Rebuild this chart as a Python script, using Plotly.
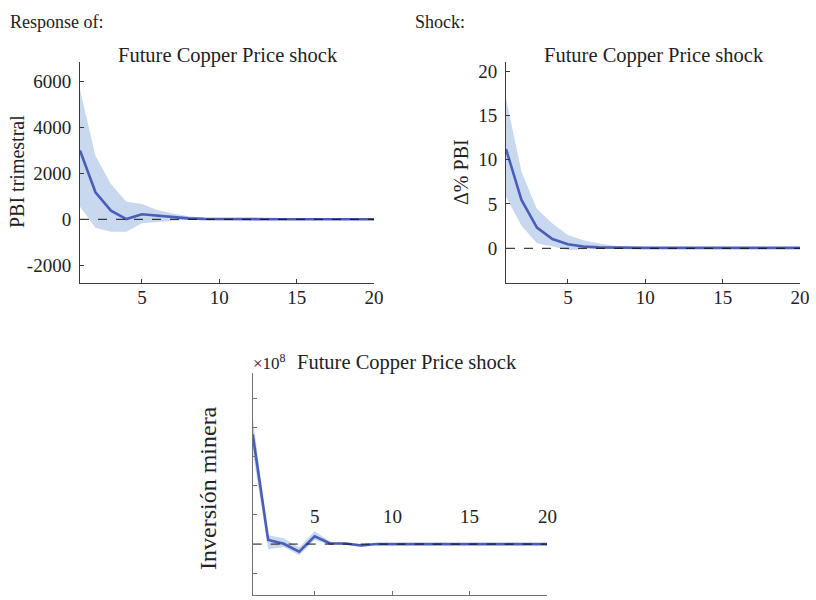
import plotly.graph_objects as go

horizon = list(range(1, 21))

# Panel 1: PBI trimestral
pbi_mid = [3000, 1180, 375, 10, 220, 150, 90, 40, 20, 10, 5, 3, 2, 1, 0, 0, 0, 0, 0, 0]
pbi_up = [5650, 2760, 1540, 770, 670, 400, 250, 130, 70, 40, 25, 15, 10, 6, 4, 3, 2, 1, 1, 1]
pbi_lo = [550, -370, -540, -540, -170, -100, -60, -30, -15, -8, -5, -3, -2, -1, -1, -1, 0, 0, 0, 0]

# Panel 2: Δ% PBI
dpbi_mid = [11.2, 5.45, 2.33, 1.05, 0.45, 0.2, 0.1, 0.06, 0.05, 0.05, 0.05, 0.05, 0.05, 0.05, 0.05, 0.05, 0.05, 0.05, 0.05, 0.05]
dpbi_up = [16.9, 8.65, 4.43, 2.8, 1.5, 0.9, 0.55, 0.3, 0.15, 0.08, 0.06, 0.05, 0.05, 0.05, 0.05, 0.05, 0.05, 0.05, 0.05, 0.05]
dpbi_lo = [5.8, 2.55, 0.56, 0.2, -0.2, -0.1, -0.05, 0.0, 0.02, 0.03, 0.04, 0.05, 0.05, 0.05, 0.05, 0.05, 0.05, 0.05, 0.05, 0.05]

# Panel 3: Inversión minera (x10^8)
inv_mid = [3.77, 0.14, 0.01, -0.26, 0.27, 0.02, 0.02, -0.05, 0.0, 0, 0, 0, 0, 0, 0, 0, 0, 0, 0, 0]
inv_up = [4.37, 0.3, 0.2, -0.12, 0.45, 0.08, 0.06, 0.0, 0.02, 0.01, 0, 0, 0, 0, 0, 0, 0, 0, 0, 0]
inv_lo = [3.2, -0.18, -0.1, -0.38, 0.15, -0.03, -0.02, -0.1, -0.02, -0.01, 0, 0, 0, 0, 0, 0, 0, 0, 0, 0]

x_ticks = [5, 10, 15, 20]
y1_ticks = [-2000, 0, 2000, 4000, 6000]
y2_ticks = [0, 5, 10, 15, 20]
y3_ticks = [-1, 0, 1, 2, 3, 4, 5]

titles = ["Future Copper Price shock"] * 3
ylabels = ["PBI trimestral", "Δ% PBI", "Inversión minera"]

LINE = "#4a5db8"
BAND = "#c8d8ef"
FONT = "Liberation Serif"
W, H = 816, 600

fig = go.Figure()

def add_panel(n, mid, up, lo):
    xa = "x" if n == 1 else f"x{n}"
    ya = "y" if n == 1 else f"y{n}"
    fig.add_trace(go.Scatter(x=horizon + horizon[::-1], y=up + lo[::-1], fill="toself",
                             fillcolor=BAND, line=dict(width=0), mode="lines",
                             hoverinfo="skip", showlegend=False, xaxis=xa, yaxis=ya))
    fig.add_trace(go.Scatter(x=horizon, y=mid, mode="lines", line=dict(color=LINE, width=2.6),
                             showlegend=False, xaxis=xa, yaxis=ya))
    fig.add_trace(go.Scatter(x=[horizon[0], horizon[-1]], y=[0, 0], mode="lines",
                             line=dict(color="#111111", width=1, dash="dash"),
                             showlegend=False, xaxis=xa, yaxis=ya))

add_panel(1, pbi_mid, pbi_up, pbi_lo)
add_panel(2, dpbi_mid, dpbi_up, dpbi_lo)
add_panel(3, inv_mid, inv_up, inv_lo)

def dom_x(a, b):
    return [a / W, b / W]

def dom_y(top, bot):
    return [1 - bot / H, 1 - top / H]

axis_common = dict(showgrid=False, zeroline=False, showline=True, linecolor="#3a3a3a",
                   linewidth=1, ticks="inside", ticklen=4, tickcolor="#3a3a3a", automargin=False,
                   tickfont=dict(family=FONT, size=19, color="#222222"))
axis_grey = {**axis_common, "linecolor": "#707070", "tickcolor": "#707070"}

fig.update_layout(
    width=W, height=H, margin=dict(l=0, r=0, t=0, b=0, autoexpand=False),
    plot_bgcolor="white", paper_bgcolor="white",
    xaxis=dict(domain=dom_x(80, 374), range=[1, 20], tickvals=x_ticks, anchor="y",
               ticklabelstandoff=-3, **axis_common),
    yaxis=dict(domain=dom_y(61.7, 283.3), range=[-2790, 6870], tickvals=y1_ticks,
               ticktext=[str(v) for v in y1_ticks],
               anchor="x", ticklabelstandoff=4, **axis_common),
    xaxis2=dict(domain=dom_x(506, 800), range=[1, 20], tickvals=x_ticks, anchor="y2",
                ticklabelstandoff=-3, **axis_common),
    yaxis2=dict(domain=dom_y(61.7, 282.7), range=[-3.88, 21.05], tickvals=y2_ticks,
                anchor="x2", ticklabelstandoff=4, **axis_common),
    xaxis3=dict(domain=dom_x(252.7, 547), range=[1, 20], tickvals=x_ticks, anchor="y3",
                showticklabels=False, **axis_grey),
    yaxis3=dict(domain=dom_y(373.3, 595), range=[-1.75, 5.87], tickvals=y3_ticks, anchor="x3",
                showticklabels=False, **axis_grey),
)

ann = []
def txt(x, y, s, size=19, xanchor="center", **kw):
    d = dict(x=x / W, y=1 - y / H, xref="paper", yref="paper", text=s, showarrow=False,
             xanchor=xanchor, yanchor="middle",
             font=dict(family=FONT, size=size, color="#222222"))
    d.update(kw)
    ann.append(d)

txt(8, 22, "Response of:", size=18, xanchor="left")
txt(413, 22, "Shock:", size=18, xanchor="left")
txt(228, 55, titles[0], size=20.5)
txt(654, 55, titles[1], size=20.5)
txt(407, 362, titles[2], size=20.5)
txt(251, 362, "×10<sup>8</sup>", size=17, xanchor="left")
txt(17, 172, ylabels[0], size=20, textangle=-90)
txt(461, 172, ylabels[1], size=20, textangle=-90)
txt(208, 488, ylabels[2], size=24, textangle=-90)

for v in x_ticks:
    ann.append(dict(x=v, y=0.95, xref="x3", yref="y3", text=str(v), showarrow=False,
                    xanchor="center", yanchor="middle",
                    font=dict(family=FONT, size=19, color="#222222")))

fig.update_layout(annotations=ann)
fig.write_html("out.html", config={"displayModeBar": False},
               post_script="document.body.style.margin='0px';")
